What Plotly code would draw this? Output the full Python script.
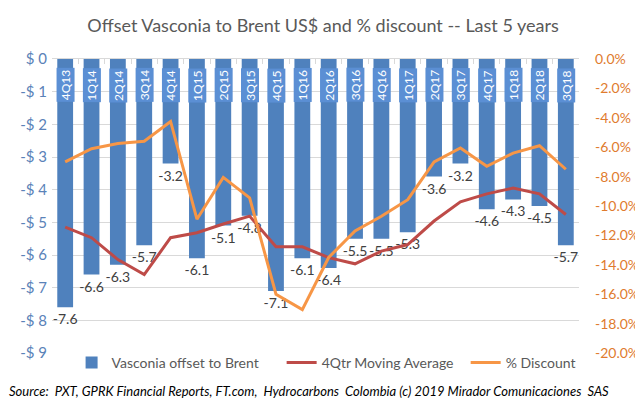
import plotly.graph_objects as go

categories = ["4Q13", "1Q14", "2Q14", "3Q14", "4Q14", "1Q15", "2Q15", "3Q15", "4Q15", "1Q16",
              "2Q16", "3Q16", "4Q16", "1Q17", "2Q17", "3Q17", "4Q17", "1Q18", "2Q18", "3Q18"]
offset_usd = [-7.6, -6.6, -6.3, -5.7, -3.2, -6.1, -5.1, -4.8, -7.1, -6.1,
              -6.4, -5.5, -5.5, -5.3, -3.6, -3.2, -4.6, -4.3, -4.5, -5.7]
moving_avg = [-5.15, -5.47, -6.14, -6.6, -5.47, -5.32, -5.05, -4.81, -5.75, -5.75,
              -6.08, -6.27, -5.88, -5.68, -4.96, -4.37, -4.13, -3.95, -4.13, -4.76]
discount_pct = [-7.0, -6.1, -5.75, -5.6, -4.25, -10.9, -8.05, -9.45, -16.0, -17.05,
                -13.5, -11.7, -10.7, -9.57, -7.0, -6.05, -7.3, -6.4, -5.9, -7.5]
left_ticks = [0, -1, -2, -3, -4, -5, -6, -7, -8, -9]
right_ticks = [0, -2, -4, -6, -8, -10, -12, -14, -16, -18, -20]

FONT = "Lato"
BLUE = "#4f81bd"
RED = "#be4b48"
ORANGE = "#f79646"
NB = "\u00a0"

W, H = 643, 398
L, R, T, B = 42, 63, 51, 53
PW, PH = W - L - R, H - T - B

fig = go.Figure()
fig.add_trace(go.Bar(
    x=categories, y=offset_usd, name="Vasconia offset to Brent" + NB * 5,
    marker=dict(color=BLUE, line=dict(width=0)), width=0.6,
    text=[f"{v:.1f}" for v in offset_usd], textposition="outside",
    constraintext="none",
    textfont=dict(family=FONT, size=14, color="#404040"), cliponaxis=False,
    yaxis="y",
))
fig.add_trace(go.Scatter(
    x=categories, y=moving_avg, name="4Qtr Moving Average" + NB * 2, mode="lines",
    line=dict(color=RED, width=3), yaxis="y",
))
fig.add_trace(go.Scatter(
    x=categories, y=discount_pct, name="% Discount", mode="lines",
    line=dict(color=ORANGE, width=3), yaxis="y2",
))

for c in categories:
    fig.add_annotation(x=c, y=-0.8, xref="x", yref="y", text=c, textangle=-90,
                       showarrow=False, bgcolor="#5b8fd4", borderpad=1,
                       font=dict(family=FONT, size=12, color="white"))

fig.add_annotation(x=(-4 - L) / PW, y=(H - B - 383) / PH, xref="paper", yref="paper", text=
                   "<i>Source:  PXT, GPRK Financial Reports, FT.com,  Hydrocarbons  Colombia (c) 2019 Mirador Comunicaciones  SAS</i>",
                   showarrow=False, xanchor="left", yanchor="middle",
                   font=dict(family=FONT, size=13, color="black"))

fig.update_layout(
    width=W, height=H,
    margin=dict(l=L, r=R, t=T, b=B),
    paper_bgcolor="white", plot_bgcolor="white",
    font=dict(family=FONT, color="#595959"),
    title=dict(text="Offset Vasconia to Brent US$ and % discount -- Last 5 years",
               x=0.49, xanchor="center", y=1 - 18 / H, yanchor="middle",
               font=dict(family=FONT, size=18, color="#595959")),
    showlegend=True,
    legend=dict(orientation="h", x=(62 - L) / PW, xanchor="left",
                y=(H - B - 355) / PH, yanchor="middle",
                font=dict(family=FONT, size=14, color="#595959"),
                bgcolor="rgba(0,0,0,0)", traceorder="normal", itemwidth=30),
    bargap=0.4,
    xaxis=dict(side="top", showticklabels=False, ticks="inside", ticklen=5,
               tickcolor="#d9d9d9", tickson="boundaries", showline=True,
               linecolor="#d9d9d9", linewidth=1, showgrid=False, zeroline=False,
               range=[-0.5, len(categories) - 0.5], fixedrange=True),
    yaxis=dict(range=[-9, 0], tickvals=left_ticks,
               ticktext=[("$ 0" if v == 0 else f"-$ {abs(v)}") for v in left_ticks],
               tickfont=dict(family=FONT, size=15, color="#5a82b8"),
               showgrid=True, gridcolor="#d9d9d9", gridwidth=1, zeroline=False,
               ticks="", ticklabelstandoff=4),
    yaxis2=dict(range=[-20, 0], tickvals=right_ticks,
                ticktext=[f"{v:.1f}%" for v in right_ticks],
                tickfont=dict(family=FONT, size=14, color="#e07b2e"),
                overlaying="y", side="right", showgrid=False, zeroline=False,
                ticks="", ticklabelstandoff=15),
)

fig.write_html("out.html")
